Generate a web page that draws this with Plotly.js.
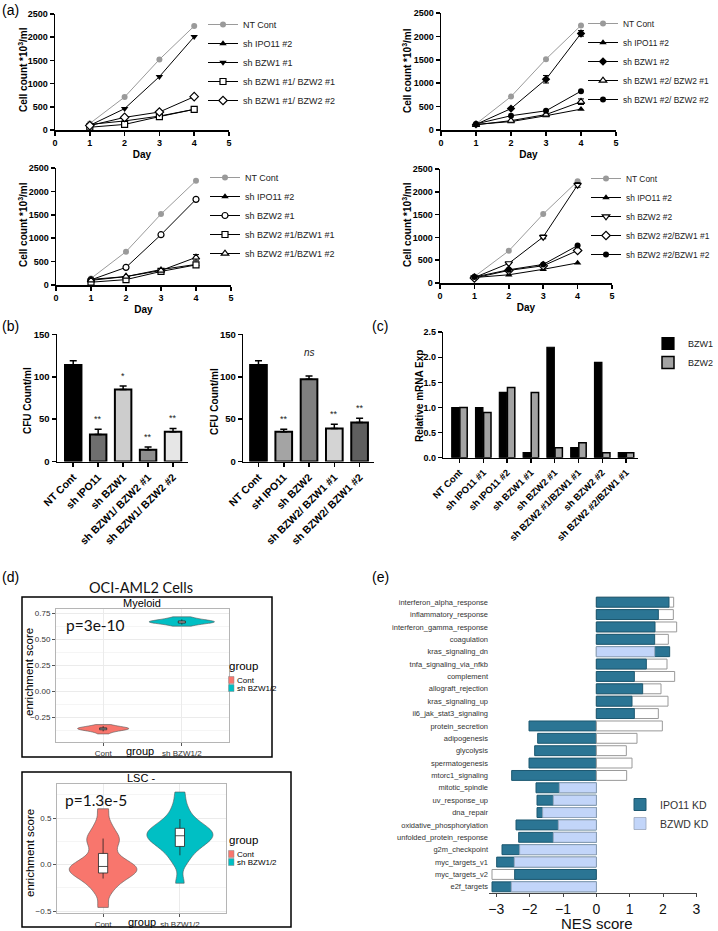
<!DOCTYPE html>
<html><head><meta charset="utf-8">
<script src="https://cdn.plot.ly/plotly-3.0.1.min.js"></script>
<style>html,body{margin:0;padding:0;background:#fff}#chart{width:718px;height:931px}</style>
</head><body><div id="chart"></div>
<script>
// ================= DATA =================
const days = [1, 2, 3, 4];

// (a) panel 1
const a1Names = ['NT Cont', 'sh IPO11 #2', 'sh BZW1 #1', 'sh BZW1 #1/ BZW2 #1', 'sh BZW1 #1/ BZW2 #2'];
const a1NTCont = [140, 710, 1520, 2240];
const a1IPO11 = [120, 195, 300, 445];
const a1BZW1 = [100, 460, 1150, 2010];
const a1BZW1BZW2n1 = [60, 120, 288, 445];
const a1BZW1BZW2n2 = [95, 272, 388, 718];

// (a) panel 2
const a2Names = ['NT Cont', 'sh IPO11 #2', 'sh BZW1 #2', 'sh BZW1 #2/ BZW2 #1', 'sh BZW1 #2/ BZW2 #2'];
const a2NTCont = [130, 714, 1514, 2235];
const a2IPO11 = [120, 180, 305, 445];
const a2BZW1 = [120, 457, 1085, 2064];
const a2BZW1Err = [0, 0, 80, 60];
const a2BZW1BZW2n1 = [110, 200, 330, 605];
const a2BZW1BZW2n1Err = [0, 0, 0, 60];
const a2BZW1BZW2n2 = [130, 305, 410, 830];

// (a) panel 3
const a3Names = ['NT Cont', 'sh IPO11 #2', 'sh BZW2 #1', 'sh BZW2 #1/BZW1 #1', 'sh BZW2 #1/BZW1 #2'];
const a3NTCont = [140, 712, 1516, 2228];
const a3IPO11 = [120, 180, 330, 440];
const a3BZW2 = [110, 377, 1075, 1830];
const a3BZW2BZW1n1 = [60, 115, 290, 430];
const a3BZW2BZW1n2 = [100, 180, 310, 590];
const a3BZW2BZW1n2Err = [0, 0, 0, 60];

// (a) panel 4
const a4Names = ['NT Cont', 'sh IPO11 #2', 'sh BZW2 #2', 'sh BZW2 #2/BZW1 #1', 'sh BZW2 #2/BZW1 #2'];
const a4NTCont = [140, 705, 1512, 2232];
const a4IPO11 = [120, 180, 300, 440];
const a4BZW2 = [120, 430, 1010, 2150];
const a4BZW2Err = [0, 0, 40, 50];
const a4BZW2BZW1n1 = [110, 276, 378, 712];
const a4BZW2BZW1n2 = [130, 290, 407, 821];

// (b) CFU counts
const b1Labels = ['NT Cont', 'sh IPO11', 'sh BZW1', 'sh BZW1/ BZW2 #1', 'sh BZW1/ BZW2 #2'];
const b1Values = [114, 32, 85, 14, 35];
const b1Err = [5, 6, 4, 3, 4];
const b1Sig = ['', '**', '*', '**', '**'];
const b2Labels = ['NT Cont', 'sH IPO11', 'sh BZW2', 'sh BZW2/ BZW1 #1', 'sh BZW2/ BZW1 #2'];
const b2Values = [114, 35, 97, 39, 46];
const b2Err = [5, 3, 4, 5, 5];
const b2Sig = ['', '**', 'ns', '**', '**'];

// (c) relative mRNA expression
const cLabels = ['NT Cont', 'sh IPO11 #1', 'sh IPO11 #2', 'sh BZW1 #1', 'sh BZW2 #1', 'sh BZW2 #1/BZW1 #1', 'sh BZW2 #2', 'sh BZW2 #2/BZW1 #1'];
const cBZW1 = [1.0, 1.0, 1.3, 0.1, 2.2, 0.2, 1.9, 0.1];
const cBZW2 = [1.0, 0.9, 1.4, 1.3, 0.2, 0.3, 0.1, 0.1];

// (d) enrichment scores (violin samples + box stats)
const dGroups = ['Cont', 'sh BZW1/2'];
const myeCont = [-0.41, -0.39, -0.38, -0.372, -0.368, -0.364, -0.36, -0.356, -0.352, -0.348, -0.342, -0.335, -0.32];
const myeSh = [0.625, 0.64, 0.65, 0.656, 0.66, 0.664, 0.668, 0.672, 0.676, 0.682, 0.69, 0.70, 0.715];
const myeQ1 = [-0.37, 0.655], myeMed = [-0.36, 0.665], myeQ3 = [-0.352, 0.675], myeLo = [-0.385, 0.64], myeHi = [-0.335, 0.69];
const myeTickVals = [-0.25, 0, 0.25, 0.5, 0.75];
const myeTickText = ['\u22120.25', '0.00', '0.25', '0.50', '0.75'];
const lscCont = [-0.46, -0.3, -0.22, -0.17, -0.13, -0.1, -0.08, -0.06, -0.04, -0.02, 0.0, 0.03, 0.07, 0.14, 0.22, 0.26, 0.3, 0.36, 0.45, 0.6];
const lscSh = [-0.2, 0.02, 0.1, 0.16, 0.2, 0.23, 0.26, 0.28, 0.3, 0.32, 0.34, 0.36, 0.38, 0.41, 0.44, 0.48, 0.55, 0.64, 0.78];
const lscQ1 = [-0.09, 0.195], lscMed = [-0.02, 0.31], lscQ3 = [0.12, 0.39], lscLo = [-0.15, 0.1], lscHi = [0.28, 0.49];
const lscTickVals = [-0.5, 0, 0.5];
const lscTickText = ['\u22120.5', '0.0', '0.5'];

// (e) NES scores
const pathways = ['interferon_alpha_response', 'inflammatory_response', 'interferon_gamma_response', 'coagulation', 'kras_signaling_dn', 'tnfa_signaling_via_nfkb', 'complement', 'allograft_rejection', 'kras_signaling_up', 'il6_jak_stat3_signaling', 'protein_secretion', 'adipogenesis', 'glycolysis', 'spermatogenesis', 'mtorc1_signaling', 'mitotic_spindle', 'uv_response_up', 'dna_repair', 'oxidative_phosphorylation', 'unfolded_protein_response', 'g2m_checkpoint', 'myc_targets_v1', 'myc_targets_v2', 'e2f_targets'];
const nesIPO11 = [2.18, 1.86, 1.76, 1.75, 2.2, 1.5, 1.14, 1.39, 1.07, 1.14, -2.02, -1.76, -1.85, -2.02, -2.54, -1.81, -1.78, -1.78, -2.41, -2.33, -2.83, -2.99, -2.45, -3.13];
const nesBZWD = [2.32, 2.31, 2.41, 2.16, 1.75, 2.12, 2.35, 1.94, 2.15, 1.86, 1.98, 1.22, 0.9, 1.07, 0.91, -1.11, -1.29, -1.61, -1.14, -1.29, -2.3, -2.46, -3.13, -2.55];
const bzwdSig = [0, 0, 0, 0, 1, 0, 0, 0, 0, 0, 0, 0, 0, 0, 0, 1, 1, 1, 1, 1, 1, 1, 0, 1];

// ================= HELPERS =================
const W = 718, H = 931;
const X = p => p / W;
const Y = p => 1 - p / H;
const FONT = 'Liberation Sans, Arial, sans-serif';
const traces = [];

function lineTrace(name, y, err, sym, ax, leg, isCtrl) {
  const open = sym.endsWith('-open');
  const base = open ? sym.replace('-open', '') : sym;
  const col = isCtrl ? '#9a9a9a' : '#000';
  const sz = base.startsWith('triangle') ? 6.5 : (base === 'diamond' ? 6.5 : 6);
  const t = {
    type: 'scatter', mode: 'lines+markers', name: name, x: days, y: y,
    xaxis: 'x' + ax, yaxis: 'y' + ax, legend: leg,
    line: {color: col, width: 1},
    marker: {symbol: base, size: sz, color: open ? '#fff' : col, line: {color: col, width: open ? 1.2 : 0}}
  };
  if (err) t.error_y = {type: 'data', array: err, color: '#000', thickness: 1, width: 3};
  return t;
}

const aPanels = [
  {names: a1Names, ser: [a1NTCont, a1IPO11, a1BZW1, a1BZW1BZW2n1, a1BZW1BZW2n2], err: [null, null, null, null, null],
   sym: ['circle', 'triangle-up', 'triangle-down', 'square-open', 'diamond-open'], ax: '', leg: 'legend'},
  {names: a2Names, ser: [a2NTCont, a2IPO11, a2BZW1, a2BZW1BZW2n1, a2BZW1BZW2n2], err: [null, null, a2BZW1Err, a2BZW1BZW2n1Err, null],
   sym: ['circle', 'triangle-up', 'diamond', 'triangle-up-open', 'circle'], ax: '2', leg: 'legend2'},
  {names: a3Names, ser: [a3NTCont, a3IPO11, a3BZW2, a3BZW2BZW1n1, a3BZW2BZW1n2], err: [null, null, null, null, a3BZW2BZW1n2Err],
   sym: ['circle', 'triangle-up', 'circle-open', 'square-open', 'triangle-up-open'], ax: '3', leg: 'legend3'},
  {names: a4Names, ser: [a4NTCont, a4IPO11, a4BZW2, a4BZW2BZW1n1, a4BZW2BZW1n2], err: [null, null, a4BZW2Err, null, null],
   sym: ['circle', 'triangle-up', 'triangle-down-open', 'diamond-open', 'circle'], ax: '4', leg: 'legend4'}
];
aPanels.forEach(p => {
  p.names.forEach((n, i) => traces.push(lineTrace(n, p.ser[i], p.err[i], p.sym[i], p.ax, p.leg, i === 0)));
});

// (b) bars
const b1Colors = ['#000000', '#6e6e6e', '#cdcdcd', '#8e8e8e', '#e6e6e6'];
const b2Colors = ['#000000', '#a4a4a4', '#808080', '#d4d4d4', '#5f5f5f'];
function cfuTrace(labels, vals, err, colors, ax) {
  return {
    type: 'bar', x: labels, y: vals, xaxis: 'x' + ax, yaxis: 'y' + ax, showlegend: false, width: 0.66,
    marker: {color: colors, line: {color: '#000', width: 2}},
    error_y: {type: 'data', symmetric: false, array: err, arrayminus: err.map(() => 0), color: '#000', thickness: 1.5, width: 3.5}
  };
}
traces.push(cfuTrace(b1Labels, b1Values, b1Err, b1Colors, '5'));
traces.push(cfuTrace(b2Labels, b2Values, b2Err, b2Colors, '6'));

// (c) grouped bars
traces.push({type: 'bar', name: 'BZW1', x: cLabels, y: cBZW1, xaxis: 'x7', yaxis: 'y7', legend: 'legend5',
  width: 0.31, offset: -0.325, marker: {color: '#000', line: {color: '#000', width: 1.2}}});
traces.push({type: 'bar', name: 'BZW2', x: cLabels, y: cBZW2, xaxis: 'x7', yaxis: 'y7', legend: 'legend5',
  width: 0.31, offset: 0.015, marker: {color: '#a3a3a3', line: {color: '#000', width: 1.5}}});

// (d) violins
const RED = '#F8766D', TEAL = '#00BFC4';
function vio(group, ys, col, ax, bw, wd) {
  return {type: 'violin', x0: group, y: ys, name: group, xaxis: 'x' + ax, yaxis: 'y' + ax, showlegend: false,
    fillcolor: col, line: {color: '#555', width: 0.6}, opacity: 1, box: {visible: false}, meanline: {visible: false},
    points: false, spanmode: 'hard', bandwidth: bw, width: wd, hoverinfo: 'y'};
}
traces.push(vio(dGroups[0], myeCont, RED, '8', 0.014, 0.65));
traces.push(vio(dGroups[1], myeSh, TEAL, '8', 0.014, 0.83));
traces.push({type: 'box', x: dGroups, q1: myeQ1, median: myeMed, q3: myeQ3, lowerfence: myeLo, upperfence: myeHi,
  xaxis: 'x8', yaxis: 'y8', showlegend: false, fillcolor: '#fff', line: {color: '#222', width: 0.8}, whiskerwidth: 0, width: 0.09, boxpoints: false});
traces.push(vio(dGroups[0], lscCont, RED, '9', 0.07, 0.88));
traces.push(vio(dGroups[1], lscSh, TEAL, '9', 0.075, 0.86));
traces.push({type: 'box', x: dGroups, q1: lscQ1, median: lscMed, q3: lscQ3, lowerfence: lscLo, upperfence: lscHi,
  xaxis: 'x9', yaxis: 'y9', showlegend: false, fillcolor: '#fff', line: {color: '#222', width: 0.8}, whiskerwidth: 0, width: 0.12, boxpoints: false});

// (e) NES overlay bars: longer bar behind, shorter in front
const keys = ['ipo', 'bzS', 'bzN'];
const layerVals = {back: {}, front: {}};
['back', 'front'].forEach(l => keys.forEach(k => layerVals[l][k] = pathways.map(() => null)));
pathways.forEach((p, i) => {
  const ipo = nesIPO11[i], bz = nesBZWD[i];
  const bzKey = bzwdSig[i] ? 'bzS' : 'bzN';
  if (Math.abs(ipo) >= Math.abs(bz)) { layerVals.back.ipo[i] = ipo; layerVals.front[bzKey][i] = bz; }
  else { layerVals.back[bzKey][i] = bz; layerVals.front.ipo[i] = ipo; }
});
const eStyle = {
  ipo: {name: 'IPO11 KD', color: '#2b7594', line: '#1d5870', lw: 1},
  bzS: {name: 'BZWD KD', color: '#c2d5f9', line: '#9aa6bb', lw: 0.8},
  bzN: {name: 'BZWD KD (n.s.)', color: '#ffffff', line: '#999999', lw: 1}
};
['back', 'front'].forEach(l => keys.forEach(k => {
  traces.push({type: 'bar', orientation: 'h', name: eStyle[k].name, x: layerVals[l][k], y: pathways,
    xaxis: 'x10', yaxis: 'y10', legend: 'legend6', width: 0.8,
    showlegend: l === 'front' && k !== 'bzN',
    marker: {color: eStyle[k].color, line: {color: eStyle[k].line, width: eStyle[k].lw}}});
}));

// ================= LAYOUT =================
const boldTick = {family: FONT, size: 9, color: '#000', weight: 'bold'};
function prismX(dom, anchor, extra) {
  return Object.assign({domain: dom, anchor: anchor, showline: true, linewidth: 1.5, linecolor: '#000', ticks: 'outside',
    ticklen: 4, tickwidth: 1.5, tickcolor: '#000', tickfont: boldTick, showgrid: false, zeroline: false, fixedrange: true}, extra);
}
function lineAxes(n, xd, yd) {
  const s = n === 1 ? '' : String(n);
  const o = {};
  o['xaxis' + s] = prismX([X(xd[0]), X(xd[1])], 'y' + s, {range: [0, 5], dtick: 1, tick0: 0,
    title: {text: 'Day', font: {family: FONT, size: 10, weight: 'bold'}, standoff: 3}});
  o['yaxis' + s] = prismX([Y(yd[1]), Y(yd[0])], 'x' + s, {range: [0, 2500], dtick: 500, tick0: 0});
  return o;
}

const layout = {
  width: W, height: H, margin: {l: 0, r: 0, t: 0, b: 0, autoexpand: false}, paper_bgcolor: '#fff', plot_bgcolor: 'rgba(0,0,0,0)',
  font: {family: FONT, color: '#000'}, barmode: 'overlay', violinmode: 'overlay', boxmode: 'overlay',
  showlegend: true, annotations: [], shapes: []
};
Object.assign(layout, lineAxes(1, [55, 229], [14, 130]));
Object.assign(layout, lineAxes(2, [441, 616], [13, 130]));
Object.assign(layout, lineAxes(3, [56, 231], [168, 285]));
Object.assign(layout, lineAxes(4, [440, 612], [169, 283]));

const legBase = {xanchor: 'left', yanchor: 'top', bgcolor: 'rgba(0,0,0,0)', borderwidth: 0, tracegroupgap: 0,
  font: {family: FONT, size: 9, color: '#222'}};
const legSmall = {family: FONT, size: 8.4, color: '#222'};
layout.legend = Object.assign({}, legBase, {x: X(203), y: Y(10)});
layout.legend2 = Object.assign({}, legBase, {x: X(583), y: Y(9), font: legSmall});
layout.legend3 = Object.assign({}, legBase, {x: X(205), y: Y(163)});
layout.legend4 = Object.assign({}, legBase, {x: X(586), y: Y(164), font: legSmall});
layout.legend5 = Object.assign({}, legBase, {x: X(648), y: Y(329)});
layout.legend6 = Object.assign({}, legBase, {x: X(620), y: Y(790), font: {family: FONT, size: 10.5, color: '#333'}});

// (b) axes
const rotTick = {family: FONT, size: 10.5, color: '#000', weight: 'bold'};
const yTick10 = {family: FONT, size: 9.5, color: '#000', weight: 'bold'};
layout.xaxis5 = prismX([X(57), X(188)], 'y5', {type: 'category', range: [-0.65, 4.6], tickangle: -45, tickfont: rotTick, ticklen: 4});
layout.yaxis5 = prismX([Y(461.5), Y(334.4)], 'x5', {range: [0, 150], dtick: 50, tickfont: yTick10});
layout.xaxis6 = prismX([X(243.3), X(373.5)], 'y6', {type: 'category', range: [-0.6, 4.55], tickangle: -45, tickfont: rotTick, ticklen: 4});
layout.yaxis6 = prismX([Y(461.5), Y(334.4)], 'x6', {range: [0, 150], dtick: 50, tickfont: yTick10});

// (c) axes
layout.xaxis7 = prismX([X(443.3), X(637.7)], 'y7', {type: 'category', range: [-0.68, 7.49], tickangle: -45,
  tickfont: {family: FONT, size: 9.5, color: '#000', weight: 'bold'}, ticklen: 4});
layout.yaxis7 = prismX([Y(457.7), Y(332.2)], 'x7', {range: [0, 2.5], dtick: 0.5, tickformat: '.1f'});

// (d) axes (ggplot-like)
function ggX(dom, anchor) {
  return {domain: dom, anchor: anchor, type: 'category', categoryarray: dGroups, categoryorder: 'array', range: [-0.6, 1.6],
    showline: true, mirror: true, linecolor: '#b5b5b5', linewidth: 1, showgrid: true, gridcolor: '#ebebeb', gridwidth: 1,
    ticks: 'outside', ticklen: 3, tickcolor: '#555', tickfont: {family: FONT, size: 8, color: '#333'}, zeroline: false, fixedrange: true};
}
function ggY(dom, anchor, range, tv, tt, minorStep) {
  return {domain: dom, anchor: anchor, range: range, tickmode: 'array', tickvals: tv, ticktext: tt,
    showline: true, mirror: true, linecolor: '#b5b5b5', linewidth: 1, showgrid: true, gridcolor: '#ebebeb', gridwidth: 1,
    minor: {tick0: minorStep / 2, dtick: minorStep, showgrid: true, gridcolor: '#f5f5f5', gridwidth: 1},
    ticks: 'outside', ticklen: 3, tickcolor: '#555', tickfont: {family: FONT, size: 8, color: '#333'}, zeroline: false, fixedrange: true};
}
layout.xaxis8 = ggX([X(56), X(229)], 'y8');
layout.yaxis8 = ggY([Y(742), Y(609)], 'x8', [-0.4875, 0.79], myeTickVals, myeTickText, 0.25);
layout.xaxis9 = ggX([X(57), X(226)], 'y9');
layout.yaxis9 = ggY([Y(913), Y(784)], 'x9', [-0.52, 0.866], lscTickVals, lscTickText, 0.5);

// (e) axes
layout.xaxis10 = {domain: [X(489), X(697)], anchor: 'y10', range: [-3.22, 3.02], dtick: 1, tick0: 0,
  showline: true, linecolor: '#444', linewidth: 1, ticks: 'outside', ticklen: 3, tickcolor: '#444', showgrid: false, zeroline: false,
  tickfont: {family: FONT, size: 14, color: '#111'}, fixedrange: true};
layout.yaxis10 = {domain: [Y(893), Y(596)], anchor: 'x10', type: 'category', categoryarray: pathways, categoryorder: 'array',
  range: [23.5, -0.5], showline: false, ticks: '', showgrid: false, zeroline: false,
  tickfont: {family: FONT, size: 7.5, color: '#333'}, fixedrange: true};

// annotations
const ann = layout.annotations;
function txt(text, x, y, opt) {
  ann.push(Object.assign({text: text, x: X(x), y: Y(y), xref: 'paper', yref: 'paper', showarrow: false,
    xanchor: 'left', yanchor: 'middle', font: {family: FONT, size: 14, color: '#000'}}, opt || {}));
}
txt('(a)', 0, 10);
txt('(b)', 0, 326);
txt('(c)', 370, 326);
txt('(d)', 0, 577);
txt('(e)', 370, 577);

// rotated axis titles
const boldTitle = {family: FONT, size: 10, color: '#000', weight: 'bold'};
function yTitle(text, x, y, font) {
  txt(text, x, y, {xanchor: 'center', textangle: -90, font: font});
}
const cellTitle = 'Cell count *10<sup>3</sup>/ml';
yTitle(cellTitle, 23, 70, boldTitle);
yTitle(cellTitle, 407, 71, boldTitle);
yTitle(cellTitle, 23, 225, boldTitle);
yTitle(cellTitle, 407, 225, boldTitle);
yTitle('CFU Count/ml', 28, 401, boldTitle);
yTitle('CFU Count/ml', 215, 401, boldTitle);
yTitle('Relative mRNA Exp', 419, 396, boldTitle);
yTitle('enrichment score', 29, 672, {family: FONT, size: 11.5, color: '#000'});
yTitle('enrichment score', 30, 853, {family: FONT, size: 11.5, color: '#000'});
txt('NES score', 597, 923, {xanchor: 'center', font: {family: FONT, size: 15, color: '#111'}});

// significance marks
function sigMarks(labels, vals, err, sig, ax) {
  labels.forEach((l, i) => {
    if (!sig[i]) return;
    const isNs = sig[i] === 'ns';
    ann.push({text: sig[i], x: l, y: vals[i] + err[i], xref: 'x' + ax, yref: 'y' + ax, showarrow: false,
      yanchor: 'bottom', yshift: isNs ? 16 : 3,
      font: {family: FONT, size: isNs ? 10 : 9, color: '#222', style: isNs ? 'italic' : 'normal'}});
  });
}
sigMarks(b1Labels, b1Values, b1Err, b1Sig, '5');
sigMarks(b2Labels, b2Values, b2Err, b2Sig, '6');

// (d) titles & labels
const CAL = 'Lato, Open Sans, sans-serif';
txt('OCI-AML2 Cells', 141, 587, {xanchor: 'center', font: {family: CAL, size: 14.5, color: '#111'}});
txt('Myeloid', 142, 603, {xanchor: 'center', font: {family: FONT, size: 11, color: '#000'}});
txt('LSC -', 141, 778, {xanchor: 'center', font: {family: FONT, size: 11, color: '#000'}});
txt('p=3e-10', 64, 625, {font: {family: CAL, size: 15.5, color: '#111'}});
txt('p=1.3e-5', 63, 800, {font: {family: CAL, size: 15.5, color: '#111'}});
txt('group', 140, 751, {xanchor: 'center', font: {family: FONT, size: 11, color: '#000'}});
txt('group', 142, 922, {xanchor: 'center', font: {family: FONT, size: 11, color: '#000'}});
// (d) legends
function ggLegend(top) {
  txt('group', 227, top, {font: {family: FONT, size: 11.5, color: '#000'}});
  [[RED, dGroups[0]], [TEAL, dGroups[1]]].forEach((g, i) => {
    const yc = top + 14 + i * 8;
    layout.shapes.push({type: 'rect', xref: 'paper', yref: 'paper', x0: X(228.5), x1: X(234), y0: Y(yc + 3.5), y1: Y(yc - 3.5),
      fillcolor: g[0], line: {color: '#888', width: 0.5}});
    txt(g[1], 234.5, yc, {font: {family: FONT, size: 8, color: '#000'}});
  });
}
ggLegend(666);
ggLegend(840);
// (d) frames
layout.shapes.push({type: 'rect', xref: 'paper', yref: 'paper', x0: X(22), x1: X(272), y0: Y(757), y1: Y(597), line: {color: '#000', width: 1.5}});
layout.shapes.push({type: 'rect', xref: 'paper', yref: 'paper', x0: X(22), x1: X(291), y0: Y(927), y1: Y(772), line: {color: '#000', width: 1.5}});

Plotly.newPlot('chart', traces, layout, {displayModeBar: false, staticPlot: true});
</script></body></html>
